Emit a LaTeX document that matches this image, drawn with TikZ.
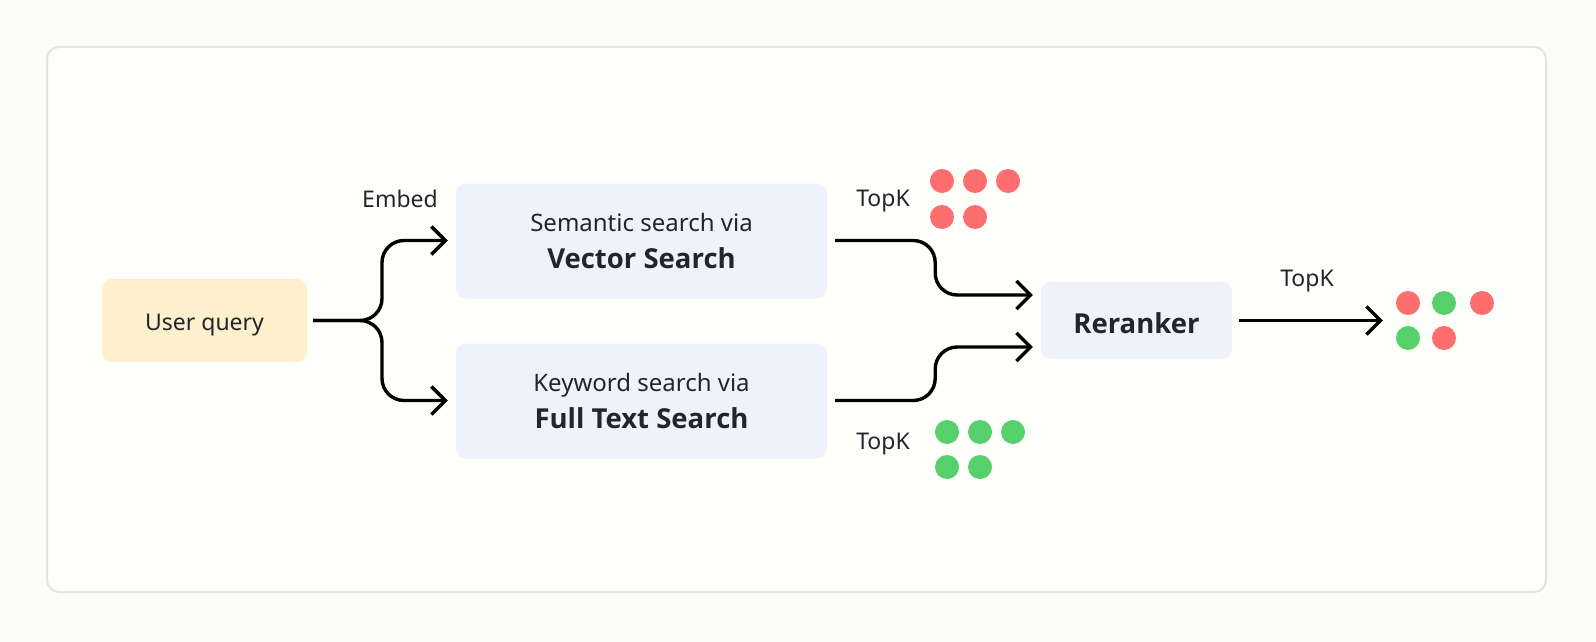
\documentclass[tikz,border=0pt]{standalone}
\usepackage{fontspec}
\setmainfont{Noto Sans}
\newfontfamily\boldfam{Open Sans}
\usetikzlibrary{arrows.meta,calc}
\definecolor{bgc}{HTML}{FCFCF8}
\definecolor{innerc}{HTML}{FEFEFB}
\definecolor{framec}{HTML}{E4E4E2}
\definecolor{yelc}{HTML}{FFF0CD}
\definecolor{bluec}{HTML}{EEF3FB}
\definecolor{txtc}{HTML}{23252A}
\definecolor{redc}{HTML}{FF6E6E}
\definecolor{greenc}{HTML}{55D06A}
\newcommand{\bftext}[1]{{\boldfam\bfseries\fontsize{27.5}{37}\selectfont #1}}
\tikzset{
  box/.style={rectangle, rounded corners=10pt, inner sep=0pt, draw=none, text=txtc, align=center},
  regtext/.style={font=\fontsize{24}{37}\selectfont},
  lbl/.style={text=txtc, inner sep=0pt, font=\fontsize{23}{28}\selectfont},
  conn/.style={draw=black, line width=3.4pt, rounded corners=22pt, -{Straight Barb[length=14pt,width=28pt,line width=3.4pt]}},
  dot/.style={circle, minimum size=24pt, inner sep=0pt, draw=none},
  reddot/.style={dot, fill=redc},
  greendot/.style={dot, fill=greenc}
}
\begin{document}
\begin{tikzpicture}[x=1pt,y=-1pt]
\useasboundingbox (0,0) rectangle (1596,642);
\fill[bgc] (0,0) rectangle (1596,642);
\draw[framec, line width=2pt, fill=innerc, rounded corners=12pt] (47,47) rectangle (1546,592);

\node[box, fill=yelc, minimum width=205pt, minimum height=83pt, font=\fontsize{23}{28}\selectfont, text height=20pt, text depth=0pt] (uq) at (204.5,320.5) {User query};
\node[box, fill=bluec, minimum width=371pt, minimum height=115pt, regtext] (vec) at (641.5,241)
  {Semantic search via\\\bftext{Vector Search}};
\node[box, fill=bluec, minimum width=371pt, minimum height=115pt, regtext] (fts) at (641.5,401)
  {Keyword search via\\\bftext{Full Text Search}};
\node[box, fill=bluec, minimum width=191pt, minimum height=77pt, text height=25pt, text depth=0pt] (rr) at (1136.5,320.5) {\bftext{Reranker}};

\node[lbl] (embed) at (400,199) {Embed};
\node[lbl] (topk1) at (883,201) {TopK};
\node[lbl] (topk2) at (883,444) {TopK};
\node[lbl] (topk3) at (1307,281) {TopK};

\node[reddot] (r1) at (942,181) {};
\node[reddot] (r2) at (975,181) {};
\node[reddot] (r3) at (1008,181) {};
\node[reddot] (r4) at (942,217) {};
\node[reddot] (r5) at (975,217) {};

\node[greendot] (g1) at (947,432) {};
\node[greendot] (g2) at (980,432) {};
\node[greendot] (g3) at (1013,432) {};
\node[greendot] (g4) at (947,467) {};
\node[greendot] (g5) at (980,467) {};

\node[reddot] (o1) at (1408,303) {};
\node[greendot] (o2) at (1444,303) {};
\node[reddot] (o3) at (1482,303) {};
\node[greendot] (o4) at (1408,338) {};
\node[reddot] (o5) at (1444,338) {};

\coordinate (split) at (382,320.5);
\draw[conn] ($(uq.east)+(6,0)$) -- (split) |- ($(vec.west)+(-8,-0.5)$);
\draw[conn] ($(uq.east)+(6,0)$) -- (split) |- ($(fts.west)+(-8,-0.5)$);
\draw[conn] ($(vec.east)+(8,-0.5)$) -- ++(100,0) |- ($(rr.west)+(-8,-25.5)$);
\draw[conn] ($(fts.east)+(8,-0.5)$) -- ++(100,0) |- ($(rr.west)+(-8,26.5)$);
\draw[conn, rounded corners=0pt] ($(rr.east)+(7,0)$) -- ($(o4.west)+(-13,-17.5)$);
\end{tikzpicture}
\end{document}
